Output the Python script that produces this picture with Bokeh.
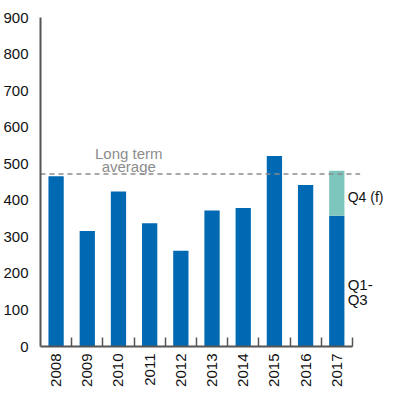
import math
from bokeh.plotting import figure
from bokeh.models import Range1d, FixedTicker, LinearAxis, Label, ColumnDataSource
from bokeh.embed import file_html
from bokeh.resources import INLINE

years = ["2008", "2009", "2010", "2011", "2012", "2013", "2014", "2015", "2016", "2017"]
q1_q3 = [466, 316, 424, 337, 262, 372, 379, 521, 442, 358]
q4_forecast = [0, 0, 0, 0, 0, 0, 0, 0, 0, 123]
long_term_average = 472
y_ticks = [0, 100, 200, 300, 400, 500, 600, 700, 800, 900]

BLUE = "#0069b4"
TEAL = "#7cc6bd"
FONT = "Liberation Sans"

n = len(years)
xpos = [i + 0.5 for i in range(n)]
src = ColumnDataSource(dict(x=xpos, q13=q1_q3,
                            top4=[a + b for a, b in zip(q1_q3, q4_forecast)]))

p = figure(width=384, height=389, output_backend="svg", toolbar_location=None,
           x_range=Range1d(0, 11.03), y_range=Range1d(0, 900),
           x_axis_location=None, y_axis_location=None,
           min_border_left=40, min_border_right=0, min_border_top=17, min_border_bottom=0)
p.outline_line_color = None
p.xgrid.visible = False
p.ygrid.visible = False

p.vbar(x="x", top="q13", bottom=0, width=0.49, fill_color=BLUE, line_color=None, source=src)
p.vbar(x="x", top="top4", bottom="q13", width=0.49, fill_color=TEAL, line_color=None, source=src)

p.segment(x0=[0], x1=[n + 0.25], y0=[long_term_average], y1=[long_term_average],
          line_color="#8c8c8c", line_dash="5 4", line_width=1.5)

yax = LinearAxis(ticker=FixedTicker(ticks=y_ticks))
yax.axis_line_color = "#555555"
yax.axis_line_width = 2
yax.major_tick_line_color = None
yax.minor_tick_line_color = None
yax.major_label_standoff = 6
yax.major_label_text_font = FONT
yax.major_label_text_font_size = "15px"
yax.major_label_text_color = "#111111"
p.add_layout(yax, "left")

xax = LinearAxis(ticker=FixedTicker(ticks=xpos, minor_ticks=list(range(1, n + 1))),
                 bounds=(0, n))
xax.major_label_overrides = {x: y for x, y in zip(xpos, years)}
xax.major_label_orientation = math.pi / 2
xax.axis_line_color = "#555555"
xax.axis_line_width = 2
xax.major_tick_line_color = None
xax.minor_tick_line_color = "#555555"
xax.minor_tick_line_width = 1.5
xax.minor_tick_in = 9
xax.minor_tick_out = 0
xax.major_label_standoff = 1
xax.major_label_text_font = FONT
xax.major_label_text_font_size = "15px"
xax.major_label_text_color = "#111111"
p.add_layout(xax, "below")

for txt, yv in [("Long term", 528), ("average", 492)]:
    p.add_layout(Label(x=2.83, y=yv, text=txt, text_align="center", text_baseline="alphabetic",
                       text_font=FONT, text_font_size="15px", text_color="#8c8c8c"))

p.add_layout(Label(x=9.85, y=408, text="Q4 (f)", text_align="left", text_baseline="alphabetic",
                   text_font=FONT, text_font_size="14px", text_color="#111111"))
for txt, yv in [("Q1-", 170), ("Q3", 128)]:
    p.add_layout(Label(x=9.85, y=yv, text=txt, text_align="left", text_baseline="alphabetic",
                       text_font=FONT, text_font_size="15px", text_color="#111111"))

open("out.html", "w").write(file_html(p, INLINE))
